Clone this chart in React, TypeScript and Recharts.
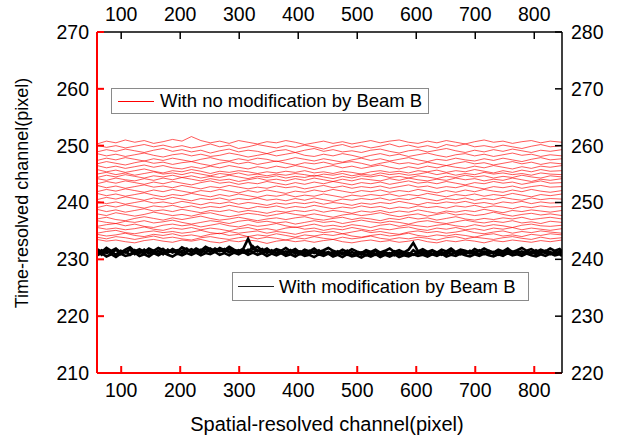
import React from 'react';
import { LineChart, Line, XAxis, YAxis, Legend } from 'recharts';

const FONT = '"Liberation Sans", Arial, sans-serif';

// Spatial-resolved channel positions (red traces)
const redX = [59, 75, 91, 107, 123, 139, 155, 171, 187, 203, 219, 235, 251, 267, 283, 299, 315, 331, 347, 363, 379, 395, 411, 427, 443, 459, 475, 491, 507, 523, 539, 555, 571, 587, 603, 619, 635, 651, 667, 683, 699, 715, 731, 747, 763, 779, 795, 811, 827, 847];

// Red traces: with no modification by Beam B (left axis values)
const red01 = [250.3,250.8,250.5,251.0,250.6,250.9,250.4,250.7,251.1,250.8,251.6,250.9,250.5,250.8,250.4,250.9,250.6,250.3,250.7,250.5,250.9,250.6,250.2,250.5,250.8,250.4,250.7,250.3,250.6,250.9,250.5,250.8,251.0,250.6,250.4,250.8,250.5,250.9,250.6,250.3,250.7,251.0,250.6,250.8,250.4,250.7,250.9,250.5,250.8,250.6];
const red02 = [250.1,249.7,250.0,249.6,249.9,250.2,249.8,250.1,249.7,250.0,249.6,249.9,250.3,249.8,250.1,249.5,249.8,250.2,249.9,249.6,250.0,249.7,250.1,249.8,249.4,249.9,250.2,249.7,250.0,249.6,249.9,250.3,249.8,250.1,249.7,250.0,249.6,250.2,249.9,250.3,249.8,250.0,249.7,250.1,249.8,249.5,249.9,250.2,249.8,250.0];
const red03 = [248.9,249.3,249.0,249.4,249.1,248.8,249.2,249.5,249.0,249.3,248.9,249.2,248.7,249.1,249.4,248.9,249.2,249.0,248.6,249.1,249.3,248.8,249.2,249.5,249.0,249.3,248.9,249.1,248.8,249.2,249.4,249.0,248.7,249.1,249.3,248.9,249.2,249.5,249.1,248.8,249.2,248.9,249.3,249.0,249.4,249.1,248.8,249.2,249.0,249.3];
const red04 = [248.6,248.2,248.5,248.1,248.4,248.7,248.3,248.0,248.4,248.6,248.2,248.5,248.1,248.3,248.7,248.4,248.0,248.3,248.6,248.2,248.5,248.8,248.3,248.1,248.5,248.2,248.6,248.3,247.9,248.3,248.6,248.2,248.5,248.1,248.4,248.7,248.3,248.0,248.4,248.6,248.2,248.5,248.1,248.4,248.7,248.3,248.5,248.1,248.4,248.2];
const red05 = [247.4,247.8,247.5,247.9,247.6,247.3,247.7,247.4,247.8,247.5,247.2,247.6,247.9,247.5,247.3,247.7,247.4,247.8,247.6,247.2,247.5,247.9,247.6,247.3,247.7,247.4,247.1,247.5,247.8,247.4,247.7,247.3,247.6,247.9,247.5,247.2,247.6,247.4,247.8,247.5,247.3,247.7,247.4,247.8,247.5,247.2,247.6,247.9,247.5,247.7];
const red06 = [246.8,247.2,246.9,246.6,247.0,247.3,246.9,247.1,246.7,247.0,247.2,246.8,246.5,246.9,247.2,246.8,247.1,246.7,247.0,247.3,246.9,246.6,247.0,246.8,247.1,246.7,247.0,247.2,246.9,246.5,246.9,247.2,246.8,247.0,246.7,247.1,246.8,246.5,246.9,247.2,246.8,247.0,246.6,246.9,247.2,246.8,247.1,246.7,247.0,246.8];
const red07 = [246.5,246.1,246.4,246.0,246.3,246.6,246.2,246.5,246.1,245.9,246.3,246.0,246.4,246.1,246.5,246.2,245.9,246.3,246.0,246.4,246.1,246.5,246.2,245.8,246.2,246.5,246.1,246.4,246.0,246.3,246.6,246.2,245.9,246.3,246.0,246.4,246.1,246.5,246.2,246.0,246.4,246.1,246.5,246.2,245.9,246.3,246.0,246.4,246.2,246.5];
const red08 = [245.8,245.4,245.7,245.3,245.6,245.9,245.5,245.2,245.6,245.4,245.8,245.5,245.1,245.5,245.3,245.6,245.4,245.1,245.4,245.2,245.5,245.3,245.6,245.2,245.4,245.1,245.5,245.3,245.0,245.4,245.6,245.3,245.5,245.2,245.6,245.4,245.7,245.3,245.6,245.4,245.8,245.5,245.2,245.6,245.3,245.7,245.4,245.8,245.5,245.6];
const red09 = [245.0,245.3,244.9,245.2,244.8,245.1,245.4,245.0,245.2,244.9,245.3,245.0,244.7,245.1,244.9,245.2,244.8,245.0,244.7,245.0,244.8,245.1,244.9,244.6,245.0,244.8,245.1,244.7,245.0,244.8,245.2,244.9,245.1,244.8,245.0,245.3,244.9,245.2,244.8,245.1,244.9,245.3,245.0,245.2,244.9,245.1,244.8,245.2,245.0,244.9];
const red10 = [244.4,244.8,244.5,244.9,244.6,244.3,244.7,244.5,244.8,244.4,244.7,244.3,244.6,244.4,244.8,244.5,244.2,244.6,244.4,244.7,244.3,244.6,244.4,244.8,244.5,244.2,244.6,244.3,244.7,244.5,244.8,244.4,244.6,244.3,244.7,244.5,244.2,244.6,244.4,244.8,244.5,244.7,244.3,244.6,244.4,244.8,244.5,244.3,244.7,244.5];
const red11 = [244.2,243.9,244.3,244.0,243.8,244.2,243.9,244.3,244.0,244.4,244.1,243.8,244.2,243.9,244.1,243.7,244.0,244.3,243.9,244.1,243.8,244.2,243.9,244.3,244.0,243.7,244.1,243.8,244.2,244.0,243.8,244.2,243.9,244.3,244.0,243.8,244.1,243.9,244.3,244.0,244.2,243.8,244.1,243.9,244.3,244.0,243.7,244.1,243.9,244.2];
const red12 = [243.3,243.7,243.4,243.8,243.5,243.2,243.6,243.3,243.7,243.4,243.1,243.5,243.8,243.4,243.6,243.2,243.5,243.3,243.7,243.4,243.1,243.5,243.2,243.6,243.3,243.7,243.4,243.1,243.5,243.3,243.6,243.2,243.5,243.8,243.4,243.6,243.3,243.7,243.4,243.1,243.5,243.3,243.7,243.4,243.6,243.2,243.5,243.8,243.4,243.5];
const red13 = [243.0,242.6,242.9,242.5,242.8,243.1,242.7,242.9,242.6,243.0,242.7,242.4,242.8,242.6,243.0,242.7,242.4,242.7,242.5,242.9,242.6,242.8,242.4,242.7,243.0,242.6,242.9,242.5,242.8,242.6,242.9,242.5,242.8,243.1,242.7,242.9,242.5,242.8,242.6,243.0,242.7,242.4,242.8,242.6,242.9,242.5,242.8,243.0,242.7,242.8];
const red14 = [241.9,242.3,242.0,242.4,242.1,241.8,242.2,241.9,242.3,242.0,241.7,242.1,241.9,242.3,242.0,241.7,242.1,241.8,242.2,241.9,241.6,242.0,241.8,242.2,241.9,242.3,242.0,241.7,242.1,241.9,242.2,241.8,242.1,241.9,242.3,242.0,241.7,242.1,241.8,242.2,241.9,242.3,242.0,241.8,242.2,241.9,242.3,242.0,241.8,242.1];
const red15 = [241.6,241.2,241.5,241.1,241.4,241.7,241.3,241.0,241.4,241.2,241.6,241.3,241.0,241.4,241.1,241.5,241.2,240.9,241.3,241.1,241.4,241.0,241.3,241.1,241.5,241.2,240.9,241.3,241.1,241.4,241.2,241.5,241.1,241.4,241.2,241.6,241.3,241.0,241.4,241.2,241.5,241.1,241.4,241.2,241.6,241.3,241.0,241.4,241.2,241.5];
const red16 = [240.5,240.9,240.6,241.0,240.7,240.4,240.8,240.5,240.9,240.6,240.3,240.7,240.5,240.8,240.4,240.7,240.5,240.8,240.4,240.6,240.3,240.7,240.4,240.8,240.5,240.2,240.6,240.4,240.7,240.5,240.8,240.4,240.7,240.5,240.9,240.6,240.3,240.7,240.5,240.8,240.4,240.7,240.5,240.9,240.6,240.4,240.8,240.5,240.7,240.6];
const red17 = [240.2,239.8,240.1,239.7,240.0,240.3,239.9,240.1,239.8,240.2,239.9,239.6,240.0,239.8,240.1,239.7,240.0,239.8,239.5,239.9,239.7,240.0,239.8,240.1,239.7,240.0,239.8,239.5,239.9,239.7,240.0,239.8,240.2,239.9,239.6,240.0,239.8,240.1,239.9,240.2,239.8,240.0,239.7,240.1,239.9,240.2,239.8,240.1,239.9,240.0];
const red18 = [239.1,239.5,239.2,239.6,239.3,239.0,239.4,239.2,239.5,239.1,239.4,239.0,239.3,239.1,239.5,239.2,238.9,239.3,239.1,239.4,239.0,239.3,239.1,239.5,239.2,238.9,239.2,239.0,239.4,239.1,239.3,238.9,239.2,239.0,239.4,239.1,239.3,239.0,239.4,239.2,239.5,239.1,239.4,239.2,238.9,239.3,239.1,239.4,239.2,239.3];
const red19 = [238.8,238.4,238.7,238.3,238.6,238.9,238.5,238.7,238.4,238.8,238.5,238.2,238.6,238.4,238.7,238.3,238.6,238.4,238.1,238.5,238.3,238.6,238.4,238.7,238.3,238.6,238.4,238.1,238.5,238.3,238.6,238.2,238.5,238.3,238.7,238.4,238.1,238.5,238.3,238.6,238.4,238.8,238.5,238.2,238.6,238.4,238.7,238.5,238.3,238.6];
const red20 = [238.0,237.7,238.2,237.9,237.6,237.9,238.3,238.0,237.7,237.9,237.6,238.0,238.2,237.8,237.5,237.8,238.1,237.9,237.6,237.9,238.2,237.9,237.7,238.0,237.7,237.4,237.8,238.0,237.7,237.9,238.2,237.8,237.5,237.8,238.0,237.6,237.9,238.2,237.8,238.0,237.7,237.9,238.3,237.9,237.6,237.9,238.1,237.8,238.0,237.7];
const red21 = [237.1,237.4,237.0,236.8,237.2,237.5,237.2,236.9,237.3,237.0,237.3,237.6,237.2,236.9,237.1,237.4,237.1,236.8,237.1,237.3,237.0,237.3,237.5,237.1,236.9,237.2,237.4,237.0,237.3,237.1,236.8,237.2,237.0,237.4,237.1,237.3,236.9,237.2,237.5,237.1,236.9,237.2,237.0,237.3,237.1,237.4,237.0,237.2,237.4,237.1];
const red22 = [236.8,236.5,236.3,236.7,236.5,236.8,236.4,236.6,236.9,236.5,236.2,236.5,236.8,236.6,236.3,236.7,236.9,236.5,236.7,236.4,236.6,236.2,236.5,236.8,236.5,236.7,236.3,236.6,236.9,236.6,236.4,236.7,236.5,236.2,236.6,236.8,236.5,236.3,236.6,236.9,236.6,236.4,236.7,236.5,236.8,236.4,236.6,236.3,236.7,236.5];
const red23 = [235.8,236.1,236.3,235.9,236.2,235.8,235.6,236.0,236.2,235.9,236.1,235.7,236.0,236.3,235.9,235.7,236.1,235.8,236.0,236.3,235.9,235.6,235.9,236.2,235.8,236.0,235.7,236.1,235.9,235.6,236.0,236.2,235.8,236.1,235.9,235.7,236.0,236.2,235.9,235.7,236.1,235.8,236.1,235.9,235.6,236.0,236.2,235.9,235.8,236.0];
const red24 = [235.6,235.3,235.5,235.2,235.4,235.7,235.3,235.1,235.5,235.3,235.6,235.2,235.5,235.3,235.0,235.4,235.6,235.2,235.4,235.1,235.5,235.7,235.3,235.5,235.1,235.4,235.2,235.6,235.3,235.0,235.4,235.2,235.5,235.7,235.3,235.1,235.5,235.3,235.6,235.2,235.4,235.1,235.5,235.3,235.6,235.2,235.5,235.3,235.1,235.4];
const red25 = [234.6,234.9,235.1,234.7,234.5,234.8,235.0,234.7,234.9,234.6,234.8,235.1,234.7,234.5,234.9,234.6,234.8,235.0,234.6,234.9,234.7,234.4,234.8,235.0,234.7,234.9,234.5,234.8,235.1,234.7,234.9,234.6,234.4,234.8,235.0,234.7,234.9,234.6,234.8,235.1,234.7,234.5,234.8,235.0,234.6,234.9,234.7,235.0,234.8,234.6];
const red26 = [234.4,234.1,234.3,234.6,234.2,234.0,234.4,234.2,234.5,234.1,234.3,234.0,234.4,234.6,234.2,234.4,234.0,234.3,234.1,234.5,234.2,233.9,234.3,234.1,234.4,234.2,234.5,234.1,233.9,234.2,234.4,234.1,234.3,234.6,234.2,234.0,234.3,234.1,234.4,234.2,233.9,234.3,234.5,234.1,234.3,234.0,234.4,234.2,234.5,234.3];
const red27 = [233.9,233.6,234.0,233.8,233.5,233.8,234.1,233.7,233.9,233.6,233.4,233.8,234.0,233.7,233.5,233.8,234.0,233.6,233.9,233.7,233.4,233.8,233.6,234.0,233.7,233.5,233.9,233.6,233.8,234.1,233.7,233.5,233.8,233.6,233.9,233.7,233.4,233.8,234.0,233.6,233.9,233.7,233.5,233.8,234.0,233.7,233.5,233.9,233.6,233.8];
const red28 = [233.5,233.2,233.4,233.1,232.9,233.3,233.5,233.2,233.0,233.4,233.2,233.5,233.1,232.9,233.3,233.1,233.4,233.2,232.8,233.2,233.4,233.1,233.3,233.0,233.3,233.5,233.1,232.9,233.2,233.4,233.1,233.3,233.0,233.2,233.5,233.1,232.9,233.3,233.1,233.4,233.2,232.9,233.3,233.1,233.4,233.2,233.0,233.3,233.1,233.4];

const redSeries = [red01, red02, red03, red04, red05, red06, red07, red08, red09, red10, red11, red12, red13, red14, red15, red16, red17, red18, red19, red20, red21, red22, red23, red24, red25, red26, red27, red28];

// Black traces: with modification by Beam B (finer channel grid)
const blackX = [59,67,75,83,91,99,107,115,123,131,139,147,155,163,171,179,187,195,203,211,219,227,235,243,251,259,267,275,283,291,299,307,315,323,331,339,347,355,363,371,379,387,395,403,411,419,427,435,443,451,459,467,475,483,491,499,507,515,523,531,539,547,555,563,571,579,587,595,603,611,619,627,635,643,651,659,667,675,683,691,699,707,715,723,731,739,747,755,763,771,779,787,795,803,811,819,827,835,843,847];
const black1 = [231.8,231.3,232.0,231.5,231.9,231.2,231.7,232.1,231.4,231.8,231.3,231.9,231.5,232.0,231.6,231.2,231.8,231.4,232.1,231.7,231.3,231.9,231.5,232.2,231.8,231.4,232.0,231.6,232.2,231.7,231.4,231.9,233.6,231.8,232.2,231.5,231.9,231.3,231.8,231.5,232.0,231.4,231.8,231.2,231.7,231.4,231.9,231.3,231.6,232.0,231.5,231.2,231.7,231.3,231.8,231.4,231.1,231.6,231.3,231.7,231.2,231.5,231.9,231.3,231.6,231.2,231.7,232.9,231.4,231.8,231.3,231.6,231.2,231.7,231.4,231.9,231.3,231.7,231.5,231.2,231.8,231.4,231.9,231.5,231.2,231.7,231.4,231.9,231.3,231.6,232.0,231.5,231.8,231.3,231.7,231.4,231.9,231.5,231.8,231.4];
const black2 = [230.7,231.1,230.5,230.9,230.4,231.0,230.6,230.8,231.2,230.6,230.9,230.5,231.1,230.7,231.2,230.8,230.5,231.0,230.7,231.1,230.8,231.2,230.7,231.1,230.9,231.3,230.8,231.1,230.7,231.2,230.9,231.3,230.8,231.2,230.8,231.1,230.6,231.0,230.7,231.1,230.6,230.9,230.5,231.0,230.6,230.8,230.4,230.9,230.6,231.0,230.5,230.8,230.4,230.9,230.5,230.7,230.3,230.8,230.5,230.9,230.4,230.8,230.5,230.9,230.4,230.7,230.5,230.9,230.6,230.8,230.5,230.9,230.6,231.0,230.5,230.8,230.6,231.0,230.7,230.5,230.9,230.6,231.0,230.7,230.5,230.9,230.6,231.1,230.7,230.9,230.6,231.0,230.7,230.5,230.9,230.6,231.0,230.7,230.9,230.6];
const black3 = [231.5,230.8,231.6,231.0,231.7,230.9,231.4,230.8,231.6,231.1,231.7,231.0,231.5,230.9,231.8,231.2,231.6,231.0,231.5,231.9,231.2,231.7,231.1,231.8,231.3,231.9,231.4,231.8,231.2,231.6,231.0,231.7,231.2,232.3,231.4,231.8,231.1,231.6,231.0,231.5,230.9,231.6,231.0,231.4,230.8,231.5,231.1,231.6,230.9,231.3,230.8,231.4,230.9,231.5,230.7,231.2,230.8,231.3,230.9,231.5,230.7,231.3,230.9,231.4,230.8,231.3,230.7,231.6,231.0,231.4,230.8,231.5,230.9,231.3,230.8,231.6,231.0,231.4,230.9,231.5,231.1,231.6,230.9,231.5,231.0,231.4,230.8,231.6,231.1,231.5,230.9,231.4,231.0,231.6,231.1,231.5,230.9,231.4,231.0,231.3];
const black4 = [231.0,231.6,231.1,231.4,230.8,231.5,231.2,231.7,230.9,231.4,231.0,231.6,231.1,231.5,230.9,231.7,231.2,231.6,231.1,231.4,231.8,231.3,231.7,231.2,231.9,231.4,231.7,231.3,231.8,231.3,231.6,231.2,231.7,231.3,231.6,231.1,231.5,231.2,231.6,231.1,231.4,231.1,231.5,230.9,231.3,231.0,231.4,230.8,231.3,231.0,231.3,230.9,231.2,230.8,231.3,230.9,231.2,230.7,231.2,230.8,231.2,230.8,231.1,230.7,231.2,230.9,231.1,230.8,231.2,230.9,231.3,230.9,231.2,230.8,231.3,231.0,231.2,230.9,231.4,231.0,231.3,230.9,231.4,231.0,231.3,230.8,231.4,231.0,231.3,231.1,231.4,231.0,231.3,230.9,231.4,231.1,231.3,230.8,231.4,231.2];
const blackSeries = [black1, black2, black3, black4];

const xTicks = [100, 200, 300, 400, 500, 600, 700, 800];
const leftTicks = [210, 220, 230, 240, 250, 260, 270];
const rightTicks = [220, 230, 240, 250, 260, 270, 280];

const legendRed = 'With no modification by Beam B';
const legendBlack = 'With modification by Beam B';
const xTitle = 'Spatial-resolved channel(pixel)';
const yTitle = 'Time-resolved channel(pixel)';

const redData = redX.map((x, i) => {
  const row: Record<string, number> = { x };
  redSeries.forEach((s, k) => {
    row['r' + k] = s[i];
  });
  return row;
});

const blackData = blackX.map((x, i) => {
  const row: Record<string, number> = { x };
  blackSeries.forEach((s, k) => {
    row['b' + k] = s[i];
  });
  return row;
});

const tickStyle = { fill: '#000', fontSize: 19.5, fontFamily: FONT };

const YTitle = () => (
  <text
    x={0}
    y={0}
    transform="translate(28,193) rotate(-90)"
    textAnchor="middle"
    fontSize={18}
    fontFamily={FONT}
    fill="#000"
  >
    {yTitle}
  </text>
);

const XTitle = () => (
  <text x={327} y={431} textAnchor="middle" fontSize={20} fontFamily={FONT} fill="#000">
    {xTitle}
  </text>
);

const boxStyle: React.CSSProperties = {
  position: 'absolute',
  boxSizing: 'border-box',
  border: '1px solid #8a8a8a',
  background: '#fff',
  fontFamily: FONT,
  fontSize: 18.5,
  color: '#000',
  whiteSpace: 'nowrap',
};

const LegendBoxes = () => (
  <div style={{ position: 'relative', width: 618, height: 443 }}>
    <div style={{ ...boxStyle, left: 111, top: 88, width: 318, height: 26 }}>
      <div style={{ position: 'absolute', left: 6, top: 12, width: 36, height: 1, background: '#ff0000' }} />
      <div style={{ position: 'absolute', left: 48, top: 1, lineHeight: '22px' }}>{legendRed}</div>
    </div>
    <div style={{ ...boxStyle, left: 232, top: 272, width: 297, height: 29 }}>
      <div style={{ position: 'absolute', left: 5, top: 13, width: 36, height: 1, background: '#222' }} />
      <div style={{ position: 'absolute', left: 46, top: 2, lineHeight: '24px' }}>{legendBlack}</div>
    </div>
  </div>
);

export default function App() {
  return (
    <div style={{ position: 'absolute', left: 0, top: 0, width: 618, height: 443, background: '#fff' }}>
      <LineChart
        width={618}
        height={443}
        data={redData}
        margin={{ top: 7, right: 6, bottom: 30, left: 37 }}
      >
        <XAxis
          xAxisId="bottom"
          dataKey="x"
          type="number"
          orientation="bottom"
          domain={[59, 847]}
          ticks={xTicks}
          allowDataOverflow
          height={40}
          axisLine={{ stroke: '#ff0000', strokeWidth: 2 }}
          tickLine={{ stroke: '#ff0000', strokeWidth: 2 }}
          tickSize={-7}
          tickMargin={17}
          tick={tickStyle}
          label={<XTitle />}
        />
        <XAxis
          xAxisId="top"
          dataKey="x"
          type="number"
          orientation="top"
          domain={[59, 847]}
          ticks={xTicks}
          allowDataOverflow
          height={25}
          axisLine={{ stroke: '#000', strokeWidth: 1.5 }}
          tickLine={{ stroke: '#000', strokeWidth: 1.5 }}
          tickSize={-7}
          tickMargin={18}
          tick={tickStyle}
        />
        <YAxis
          yAxisId="left"
          orientation="left"
          type="number"
          domain={[210, 270]}
          ticks={leftTicks}
          allowDataOverflow
          width={60}
          axisLine={{ stroke: '#ff0000', strokeWidth: 2 }}
          tickLine={{ stroke: '#ff0000', strokeWidth: 2 }}
          tickSize={-7}
          tickMargin={15}
          tick={tickStyle}
          label={<YTitle />}
        />
        <YAxis
          yAxisId="right"
          orientation="right"
          type="number"
          domain={[220, 280]}
          ticks={rightTicks}
          allowDataOverflow
          width={50}
          axisLine={{ stroke: '#000', strokeWidth: 1.5 }}
          tickLine={{ stroke: '#000', strokeWidth: 1.5 }}
          tickSize={-7}
          tickMargin={16}
          tick={tickStyle}
        />
        {redSeries.map((_, k) => (
          <Line
            key={'r' + k}
            xAxisId="bottom"
            yAxisId="left"
            dataKey={'r' + k}
            stroke="#ff0000"
            strokeWidth={0.65}
            dot={false}
            activeDot={false}
            isAnimationActive={false}
            legendType="none"
          />
        ))}
        {blackSeries.map((_, k) => (
          <Line
            key={'b' + k}
            data={blackData}
            xAxisId="bottom"
            yAxisId="left"
            dataKey={'b' + k}
            stroke="#000"
            strokeWidth={2.6}
            dot={false}
            activeDot={false}
            isAnimationActive={false}
            legendType="none"
          />
        ))}
        <Legend
          layout="horizontal"
          verticalAlign="middle"
          align="center"
          wrapperStyle={{ left: 0, top: 0, width: 618, height: 443, pointerEvents: 'none' }}
          content={() => <LegendBoxes />}
        />
      </LineChart>
    </div>
  );
}
